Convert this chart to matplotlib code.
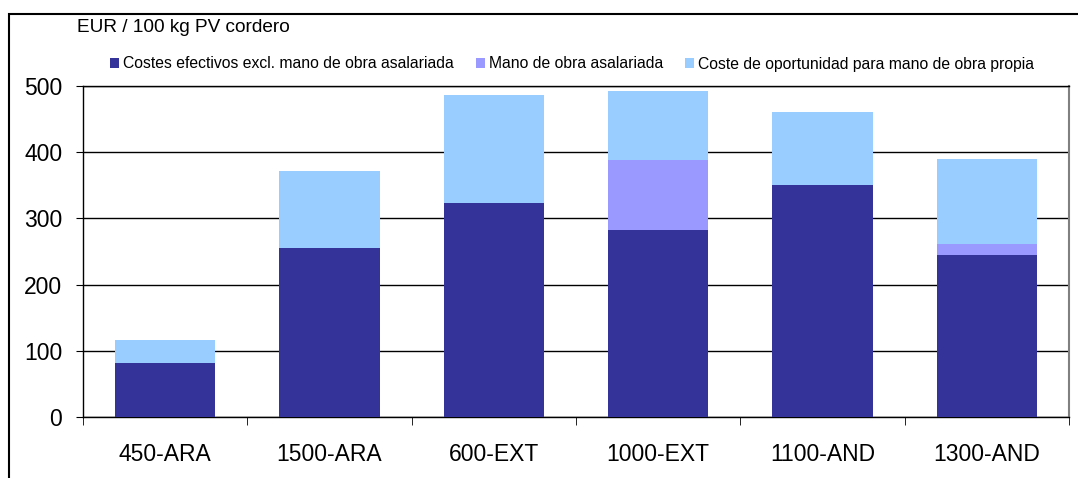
import numpy as np
import matplotlib.pyplot as plt
from matplotlib.patches import Rectangle

plt.rcParams['font.family'] = ['Liberation Sans', 'DejaVu Sans']

categories = ['450-ARA', '1500-ARA', '600-EXT', '1000-EXT', '1100-AND', '1300-AND']
costes_efectivos = [82, 255, 323, 282, 350, 245]
mano_asalariada = [0, 0, 0, 106, 0, 17]
coste_oportunidad = [34, 117, 163, 104, 111, 128]

labels = ['Costes efectivos excl. mano de obra asalariada',
          'Mano de obra asalariada',
          'Coste de oportunidad para mano de obra propia']
colors = ['#333399', '#9999FF', '#99CCFF']

W, H = 1078, 478
fig = plt.figure(figsize=(W / 100, H / 100), dpi=100)
ax = fig.add_axes([83 / W, 1 - 417 / H, (1069 - 83) / W, (417 - 86) / H])

x = np.arange(len(categories))
bw = 0.61
bottom = np.zeros(len(categories))
for vals, lab, col in zip([costes_efectivos, mano_asalariada, coste_oportunidad], labels, colors):
    ax.bar(x, vals, bw, bottom=bottom, color=col, label=lab, zorder=3)
    bottom += np.array(vals)

ax.set_xlim(-0.5, len(categories) - 0.5)
ax.set_ylim(0, 500)
ax.set_yticks(np.arange(0, 501, 100))
ax.tick_params(axis='y', labelsize=16.5, length=5, direction='out', pad=10)
ax.yaxis.grid(True, color='black', linewidth=1, zorder=0)
ax.set_xticks(x)
ax.set_xticklabels(categories)
ax.tick_params(axis='x', length=0, labelsize=16.5, pad=19)
ax.set_xticks(np.arange(-0.5, len(categories)), minor=True)
ax.tick_params(axis='x', which='minor', length=6, direction='out')
for s in ax.spines.values():
    s.set_linewidth(1)
    s.set_color('black')
ax.spines['right'].set_color('#808080')
ax.spines['right'].set_linewidth(1.5)

ax.legend(loc='center left', bbox_to_anchor=(110 / W, 1 - 64 / H), bbox_transform=fig.transFigure,
          ncol=3, frameon=False, fontsize=11.3, handlelength=0.58, handleheight=0.58,
          handletextpad=0.25, columnspacing=1.4, borderaxespad=0, borderpad=0)

fig.text(77 / W, 1 - 28 / H, 'EUR / 100 kg PV cordero', fontsize=13.7, va='center', ha='left')

fig.patches.append(Rectangle((9 / W, -0.05), 1.2, 1 - 14 / H + 0.05, transform=fig.transFigure,
                             fill=False, edgecolor='black', linewidth=1.5))

fig.savefig('out.png', dpi=100)
